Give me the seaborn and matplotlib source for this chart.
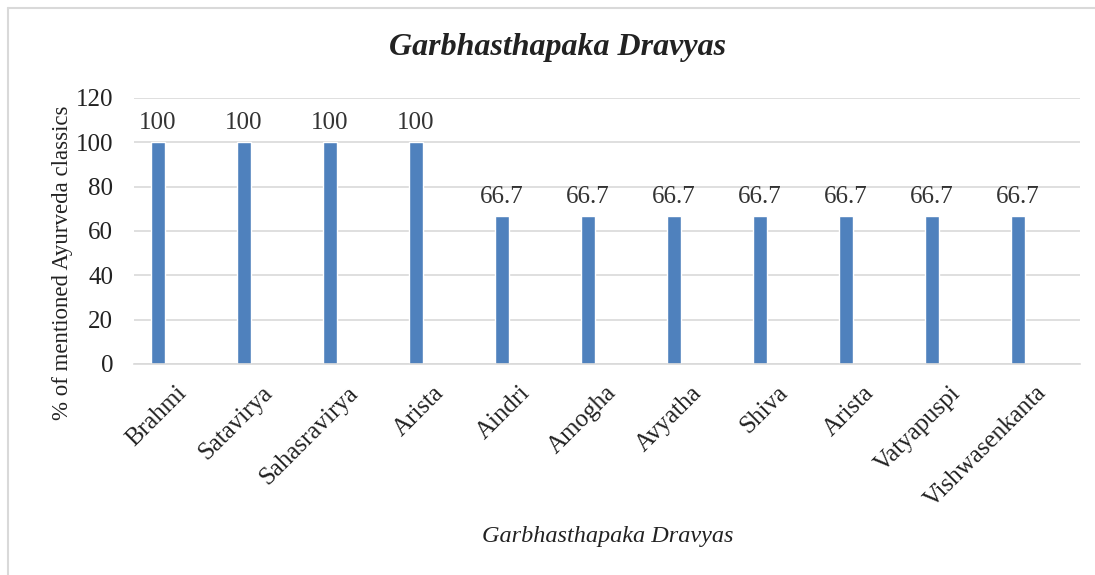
import numpy as np
import pandas as pd
import matplotlib
matplotlib.use('Agg')
import matplotlib.pyplot as plt
import matplotlib.transforms as mtransforms
import seaborn as sns

# dados
categorias = ['Brahmi', 'Satavirya', 'Sahasravirya', 'Arista', 'Aindri', 'Amogha',
              'Avyatha', 'Shiva', 'Arista ', 'Vatyapuspi', 'Vishwasenkanta']
rotulos = ['Brahmi', 'Satavirya', 'Sahasravirya', 'Arista', 'Aindri', 'Amogha',
           'Avyatha', 'Shiva', 'Arista', 'Vatyapuspi', 'Vishwasenkanta']
valores = [100, 100, 100, 100, 66.7, 66.7, 66.7, 66.7, 66.7, 66.7, 66.7]

df = pd.DataFrame({'Dravya': categorias, 'Pct': valores})

sns.set_style('white')
plt.rcParams['font.family'] = ['Liberation Serif', 'DejaVu Serif']

fig = plt.figure(figsize=(10.95, 5.75), dpi=100)
ax = fig.add_axes([0.1224, 0.367, 0.8639, 0.4626])

sns.barplot(data=df, x='Dravya', y='Pct', color='#4F81BD', width=0.165,
            saturation=1, ax=ax)

ax.set_xlim(-0.28, 10.72)
ax.set_ylim(0, 120)
ax.set_yticks(range(0, 121, 20))
ax.yaxis.grid(True, color='#D9D9D9', linewidth=1.2)
ax.set_axisbelow(True)
for s in ['top', 'right', 'left']:
    ax.spines[s].set_visible(False)
ax.spines['bottom'].set_color('#D9D9D9')
ax.spines['bottom'].set_linewidth(1.2)
ax.tick_params(axis='both', length=0, labelsize=18, colors='#222222')
ax.tick_params(axis='y', pad=15)

ax.set_xticks(range(len(rotulos)))
ax.set_xticklabels(rotulos, rotation=45, ha='right', rotation_mode='anchor')
desloc = mtransforms.ScaledTranslation(0.17, -0.13, fig.dpi_scale_trans)
for lab in ax.get_xticklabels():
    lab.set_transform(lab.get_transform() + desloc)

# rótulos de valor
ax.bar_label(ax.containers[0], labels=[f'{v:g}' for v in valores], padding=6,
             fontsize=18, color='#333333')

ax.set_ylabel('% of mentioned Ayurveda classics', fontsize=16.5, color='#222222')
ax.yaxis.set_label_coords(-0.0645, 0.38)
ax.set_xlabel('Garbhasthapaka Dravyas', fontsize=17.5, style='italic', color='#222222')
ax.xaxis.set_label_coords(0.501, -0.61)

fig.text(0.509, 0.918, 'Garbhasthapaka Dravyas', fontsize=23, fontweight='bold',
         style='italic', ha='center', va='center', color='#222222')

# borda da área do gráfico (só esquerda e topo aparecem)
fig.add_artist(plt.Line2D([8 / 1095, 8 / 1095], [0, 1 - 8 / 575],
                          transform=fig.transFigure, color='#D9D9D9', linewidth=1.5))
fig.add_artist(plt.Line2D([8 / 1095, 1], [1 - 8 / 575, 1 - 8 / 575],
                          transform=fig.transFigure, color='#D9D9D9', linewidth=1.5))

fig.savefig('out.png', dpi=100)
